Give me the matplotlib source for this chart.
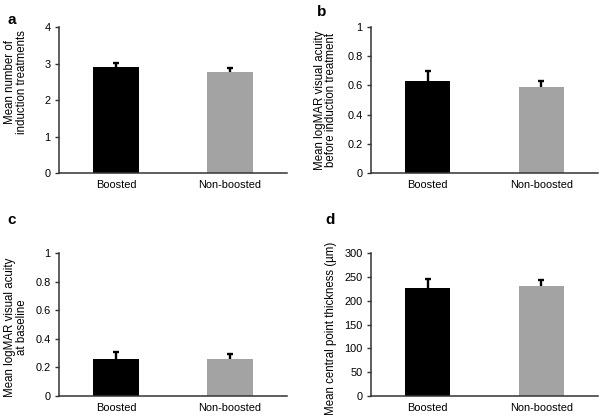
import matplotlib
matplotlib.use("Agg")
import matplotlib.pyplot as plt

plt.rcParams['font.family'] = ['Liberation Sans', 'DejaVu Sans']

groups = ["Boosted", "Non-boosted"]
bar_colors = ["#000000", "#a3a3a3"]

a_vals = [2.91, 2.78]
a_err = [0.10, 0.10]
b_vals = [0.632, 0.588]
b_err = [0.065, 0.040]
c_vals = [0.262, 0.262]
c_err = [0.045, 0.035]
d_vals = [226, 230]
d_err = [20, 14]

panels = [
    ("a", a_vals, a_err, "Mean number of\ninduction treatments", (0, 4), [0, 1, 2, 3, 4], ["0", "1", "2", "3", "4"]),
    ("b", b_vals, b_err, "Mean logMAR visual acuity\nbefore induction treatment", (0, 1), [0, 0.2, 0.4, 0.6, 0.8, 1], ["0", "0.2", "0.4", "0.6", "0.8", "1"]),
    ("c", c_vals, c_err, "Mean logMAR visual acuity\nat baseline", (0, 1), [0, 0.2, 0.4, 0.6, 0.8, 1], ["0", "0.2", "0.4", "0.6", "0.8", "1"]),
    ("d", d_vals, d_err, "Mean central point thickness (µm)", (0, 300), [0, 50, 100, 150, 200, 250, 300], ["0", "50", "100", "150", "200", "250", "300"]),
]

positions = [
    [0.098, 0.588, 0.3787, 0.3477],
    [0.6163, 0.588, 0.3771, 0.3477],
    [0.098, 0.0571, 0.3787, 0.3405],
    [0.6163, 0.0571, 0.3771, 0.3405],
]
label_coords = [(-0.136, 0.62), (-0.148, 0.5), (-0.136, 0.48), (-0.148, 0.47)]
letter_pos = [(0.012, 0.952), (0.527, 0.972), (0.012, 0.477), (0.540, 0.477)]

fig = plt.figure(figsize=(6.02, 4.2), dpi=100)
fs = 7.9
for (letter, vals, errs, ylabel, ylim, yt, ytl), pos, lc, lp in zip(panels, positions, label_coords, letter_pos):
    ax = fig.add_axes(pos)
    x = [0, 1]
    ax.bar(x, vals, width=0.4, color=bar_colors, zorder=2)
    eb = ax.errorbar(x, vals, yerr=[[0, 0], errs], fmt='none', ecolor='black',
                     elinewidth=1.7, capsize=2.5, capthick=1.7, zorder=3)
    caps = eb[1]
    for cl in caps:
        yd = list(cl.get_ydata())
        if all(abs(a - b) < 1e-9 for a, b in zip(yd, vals)):
            cl.set_visible(False)
    ax.set_xlim(-0.5, 1.5)
    ax.set_ylim(*ylim)
    ax.set_yticks(yt)
    ax.set_yticklabels(ytl, fontsize=fs)
    ax.set_xticks(x)
    ax.set_xticklabels(groups, fontsize=fs)
    ax.tick_params(axis='x', length=0, pad=5)
    ax.tick_params(axis='y', length=3, width=1, color='#333333', pad=3)
    for s in ['top', 'right']:
        ax.spines[s].set_visible(False)
    for s in ['left', 'bottom']:
        ax.spines[s].set_color('#333333')
        ax.spines[s].set_linewidth(1.1)
    ax.set_ylabel(ylabel, fontsize=8.3, linespacing=0.98)
    ax.yaxis.set_label_coords(*lc)
    fig.text(lp[0], lp[1], letter, fontsize=11, fontweight='bold', va='center', ha='left')

fig.savefig("out.png", dpi=100)
